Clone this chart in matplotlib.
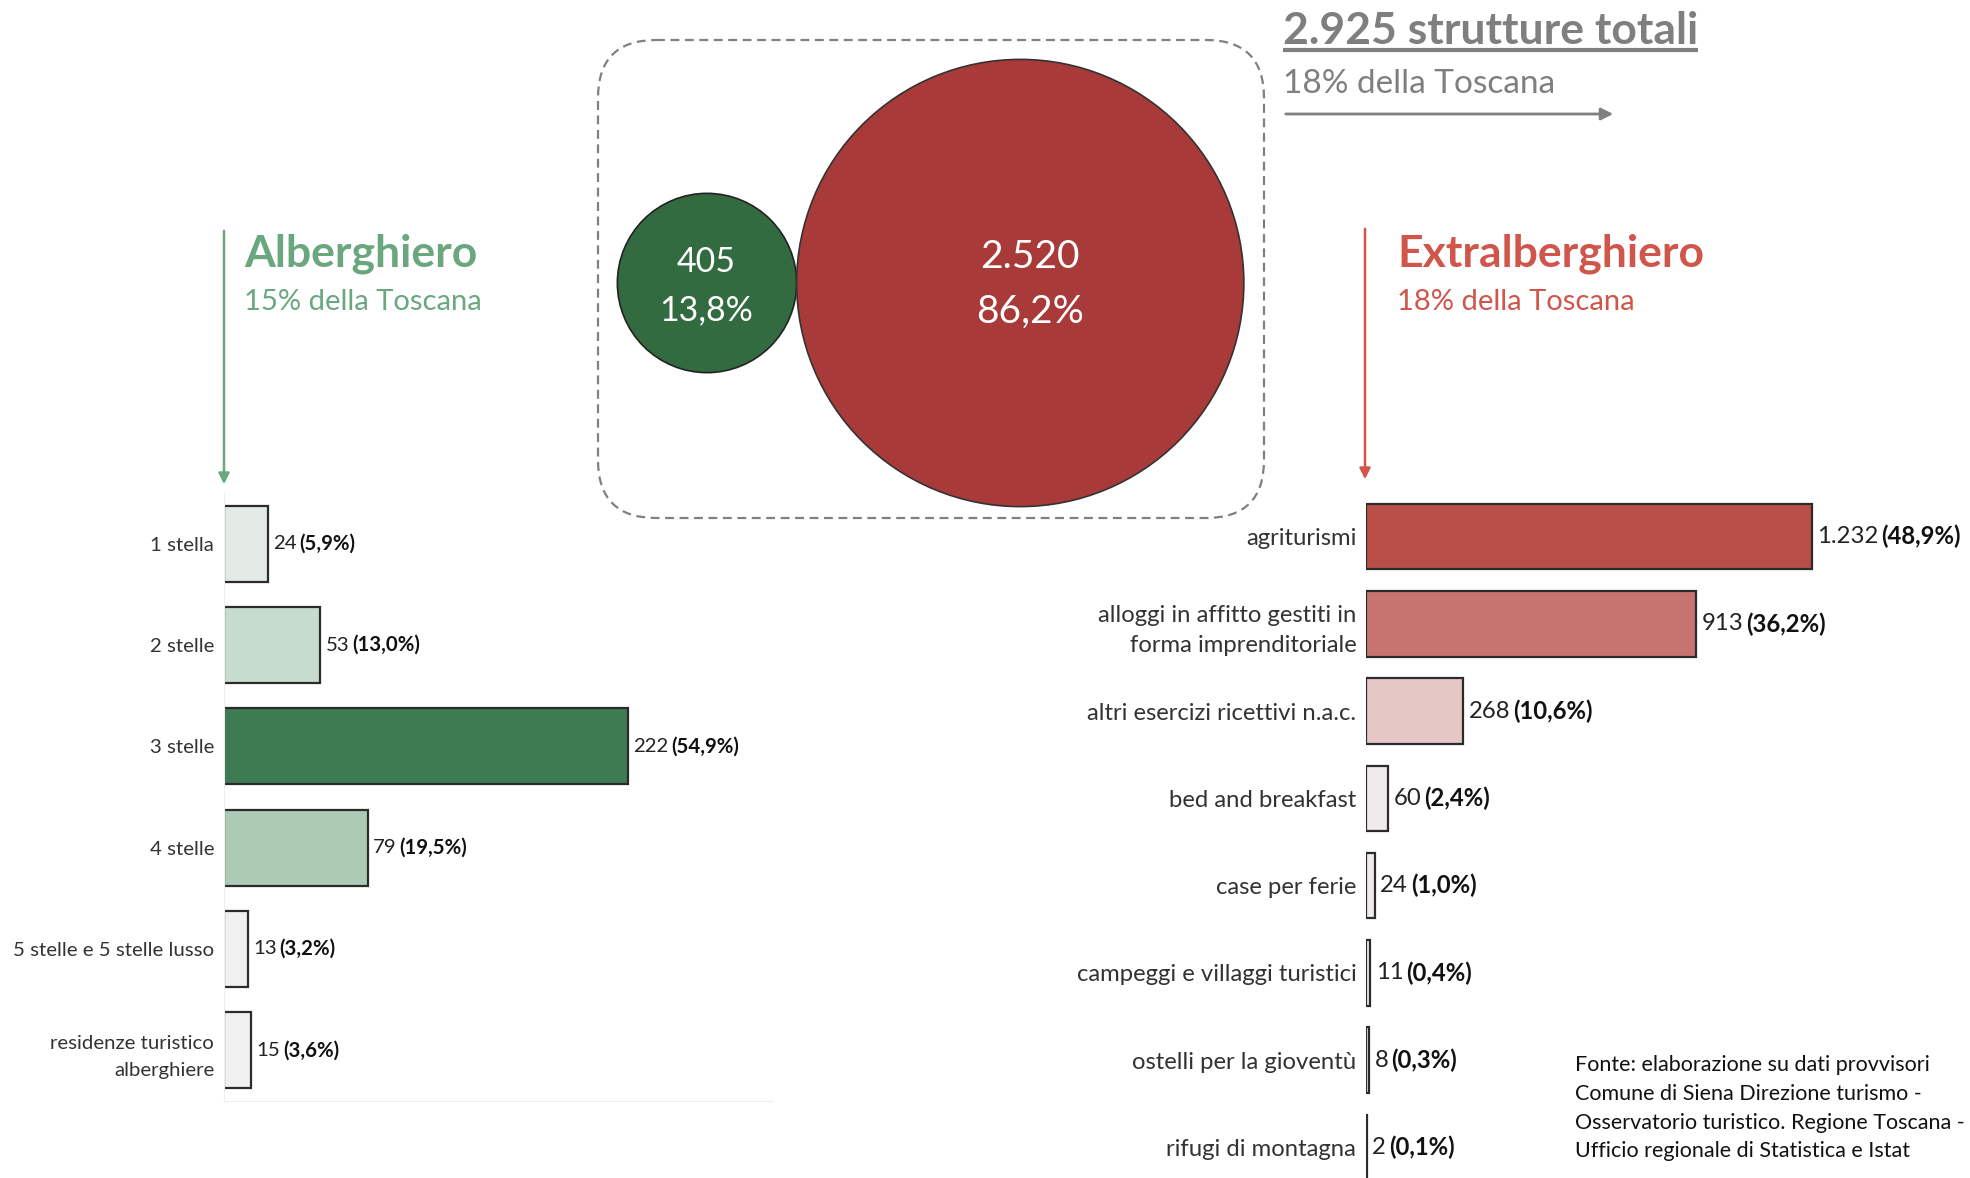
import numpy as np
import matplotlib.pyplot as plt
from matplotlib.patches import Circle, FancyBboxPatch

plt.rcParams['font.family'] = ['Lato', 'DejaVu Sans']

W, H = 1970, 1178

# data
total_label = "2.925 strutture totali"
group_names = ["Alberghiero", "Extralberghiero"]
group_values = [405, 2520]
group_pct = [13.8, 86.2]
group_share_toscana = [15, 18]
total_share_toscana = 18

hotel_labels = ["1 stella", "2 stelle", "3 stelle", "4 stelle",
                "5 stelle e 5 stelle lusso", "residenze turistico\nalberghiere"]
hotel_values = [24, 53, 222, 79, 13, 15]
hotel_pct = [5.9, 13.0, 54.9, 19.5, 3.2, 3.6]

extra_labels = ["agriturismi", "alloggi in affitto gestiti in\nforma imprenditoriale",
                "altri esercizi ricettivi n.a.c.", "bed and breakfast", "case per ferie",
                "campeggi e villaggi turistici", "ostelli per la gioventù", "rifugi di montagna"]
extra_values = [1232, 913, 268, 60, 24, 11, 8, 2]
extra_pct = [48.9, 36.2, 10.6, 2.4, 1.0, 0.4, 0.3, 0.1]

fonte = ("Fonte: elaborazione su dati provvisori\n"
         "Comune di Siena Direzione turismo -\n"
         "Osservatorio turistico. Regione Toscana -\n"
         "Ufficio regionale di Statistica e Istat")

# colours
green_dark = '#336b41'
red_dark = '#a83a3a'
green_head = '#6aa67e'
red_head = '#d0554b'
grey_head = '#7f7f7f'
hotel_colors = ['#e3eae5', '#c6dccf', '#3e7b53', '#adcbb4', '#f0f0f0', '#f0f0f0']
extra_colors = ['#ba4e48', '#c8746e', '#e5c7c5', '#efebea', '#efebea', '#efebea', '#efebea', '#efebea']


def fmt_num(v):
    return f"{v:,}".replace(",", ".")


def fmt_pct(p):
    return f"({p:.1f}%)".replace(".", ",")


fig = plt.figure(figsize=(W / 100, H / 100), dpi=100)
fig.patch.set_facecolor('white')

# background canvas in pixel coords
bg = fig.add_axes([0, 0, 1, 1])
bg.set_xlim(0, W)
bg.set_ylim(H, 0)
bg.axis('off')

# bubbles
k = 223.6 / np.sqrt(max(group_values))
r_g = k * np.sqrt(group_values[0])
r_r = k * np.sqrt(group_values[1])
cy = 283
cx_g = 707
cx_r = cx_g + r_g + r_r
box = FancyBboxPatch((598, 40), 666, 478, boxstyle="round,pad=0,rounding_size=58",
                     fill=False, edgecolor='#808080', linestyle=(0, (4, 2.5)), linewidth=1.6)
bg.add_patch(box)
bg.add_patch(Circle((cx_g, cy), r_g, facecolor=green_dark, edgecolor='#222222', linewidth=1.2))
bg.add_patch(Circle((cx_r, cy), r_r, facecolor=red_dark, edgecolor='#333333', linewidth=1.2))
bg.text(cx_g - 1, cy + 3, f"{group_values[0]}\n{str(group_pct[0]).replace('.', ',')}%",
        ha='center', va='center', color='white', fontsize=24.5, linespacing=1.6)
bg.text(cx_r + 10, cy + 1, f"{fmt_num(group_values[1])}\n{str(group_pct[1]).replace('.', ',')}%",
        ha='center', va='center', color='white', fontsize=28, linespacing=1.65)

# total header
t_tot = bg.text(1283, 31, total_label, ha='left', va='center', color=grey_head,
                fontsize=32, fontweight='bold')
bg.text(1283, 84, f"{total_share_toscana}% della Toscana", ha='left', va='center',
        color=grey_head, fontsize=24)
bg.annotate('', xy=(1616, 114), xytext=(1283, 114),
            arrowprops=dict(arrowstyle='-|>', color=grey_head, lw=2, mutation_scale=18))

# group headers
bg.text(244, 254, group_names[0], ha='left', va='center', color=green_head,
        fontsize=32, fontweight='bold')
bg.text(244, 302, f"{group_share_toscana[0]}% della Toscana", ha='left', va='center',
        color=green_head, fontsize=21)
bg.annotate('', xy=(224, 487), xytext=(224, 228),
            arrowprops=dict(arrowstyle='-|>', color=green_head, lw=1.8, mutation_scale=16))

bg.text(1397, 254, group_names[1], ha='left', va='center', color=red_head,
        fontsize=32, fontweight='bold')
bg.text(1397, 302, f"{group_share_toscana[1]}% della Toscana", ha='left', va='center',
        color=red_head, fontsize=21)
bg.annotate('', xy=(1365, 482), xytext=(1365, 226),
            arrowprops=dict(arrowstyle='-|>', color=red_head, lw=1.8, mutation_scale=16))

bg.text(1575, 1055, fonte, ha='left', va='top', color='#111111', fontsize=15.5, linespacing=1.55)


def bar_panel(rect, labels, values, pcts, colors, xmax, fs, ls):
    ax = fig.add_axes(rect)
    n = len(values)
    ax.barh(range(n), values, height=0.75, color=colors, edgecolor='#2b2b2b', linewidth=1.6)
    ax.set_xlim(0, xmax)
    ax.set_ylim(n - 0.5, -0.5)
    ax.set_yticks(range(n), labels, fontsize=fs, color='#333333', linespacing=ls)
    ax.tick_params(axis='y', length=0, pad=7)
    ax.set_xticks([])
    for s in ['top', 'right']:
        ax.spines[s].set_visible(False)
    ax.patch.set_alpha(0)
    for i, v in enumerate(values):
        t = ax.annotate(fmt_num(v), xy=(v, i), xytext=(4, 0), textcoords='offset points',
                        ha='left', va='center', fontsize=fs, color='#222222')
        ax.annotate(fmt_pct(pcts[i]), xy=(1, 0.5), xycoords=t, xytext=(2, 0),
                    textcoords='offset points', ha='left', va='center', fontsize=fs,
                    fontweight='bold', color='#111111')
    return ax


ax1 = bar_panel([224 / W, 1 - 1101 / H, 549 / W, 608 / H], hotel_labels, hotel_values,
                hotel_pct, hotel_colors, 302, 14.7, 1.75)
ax1.spines['left'].set_color('#eeeeee')
ax1.spines['bottom'].set_color('#eeeeee')

ax2 = bar_panel([1366 / W, 1 - 1191 / H, 604 / W, 698 / H], extra_labels, extra_values,
                extra_pct, extra_colors, 1670, 17.2, 1.55)
ax2.spines['left'].set_visible(False)
ax2.spines['bottom'].set_visible(False)

# underline for the total header
fig.canvas.draw()
bb = t_tot.get_window_extent()
inv = bg.transData.inverted()
(x0, y0), (x1, _) = inv.transform([[bb.x0, bb.y0], [bb.x1, bb.y0]])
bg.plot([x0, x1], [y0 - 1, y0 - 1], color=grey_head, lw=3, solid_capstyle='butt')

fig.savefig('out.png', dpi=100)
